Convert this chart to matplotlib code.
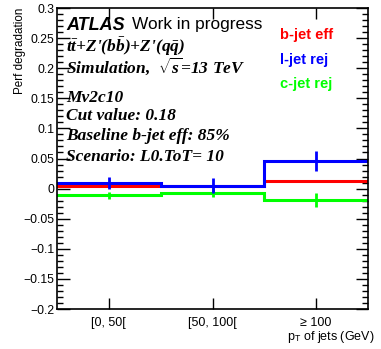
import matplotlib
matplotlib.use("Agg")
import matplotlib.pyplot as plt
import numpy as np
from matplotlib.ticker import MultipleLocator, FixedLocator

plt.rcParams['mathtext.fontset'] = 'custom'
plt.rcParams['mathtext.rm'] = 'Liberation Serif:bold:italic'
plt.rcParams['mathtext.it'] = 'Liberation Serif:bold:italic'
plt.rcParams['mathtext.bf'] = 'Liberation Serif:bold:italic'
plt.rcParams['mathtext.sf'] = 'Liberation Sans'

categories = ["[0, 50[", "[50, 100[", "≥ 100"]
b_eff = [0.005, 0.004, 0.0126]
b_err = [0.001, 0.001, 0.001]
l_rej = [0.009, 0.005, 0.046]
l_err = [0.0095, 0.012, 0.016]
c_rej = [-0.011, -0.007, -0.019]
c_err = [0.0055, 0.0075, 0.0116]

W, H = 381, 349
fig = plt.figure(figsize=(W / 100, H / 100), dpi=100)
ax = fig.add_axes([57 / W, 1 - 309 / H, (368 - 57) / W, (309 - 8) / H])

n = len(categories)
edges = np.arange(n + 1)
centers = edges[:-1] + 0.5

series = [(b_eff, b_err, '#ff0000'), (c_rej, c_err, '#00ff00'), (l_rej, l_err, '#0000ff')]
for vals, errs, col in series:
    v = list(vals) + [vals[-1]]
    ax.step(edges, v, where='post', color=col, lw=2.2, solid_joinstyle='miter')
    ax.errorbar(centers, vals, yerr=errs, fmt='none', ecolor=col, elinewidth=2.0, capsize=0)

ax.set_xlim(0, n)
ax.set_ylim(-0.2, 0.3)
ax.xaxis.set_major_locator(FixedLocator(centers))
ax.set_xticklabels(categories, fontsize=9, family='Liberation Sans')
ax.yaxis.set_minor_locator(MultipleLocator(0.01))
yt = np.arange(-0.2, 0.3001, 0.05)
ylabels = []
for t in yt:
    if abs(t) < 1e-9:
        ylabels.append("0")
    else:
        s = ("%.2f" % abs(t)).rstrip('0').rstrip('.')
        ylabels.append(("\u2212" if t < 0 else "") + s)
ax.set_yticks(yt)
ax.set_yticklabels(ylabels, fontsize=8.8, family='Liberation Sans')
ax.tick_params(axis='both', which='both', direction='in', top=True, right=True)
ax.tick_params(axis='y', which='major', length=9, width=1, pad=2)
ax.tick_params(axis='y', which='minor', length=4.5, width=1)
ax.tick_params(axis='x', which='major', length=8, width=1, pad=6)
for sp in ax.spines.values():
    sp.set_linewidth(1.2)

fig.text(20 / W, 1 - 8 / H, "Perf degradation", fontsize=8.4, family='Liberation Sans',
         rotation=90, ha='center', va='top')
fig.text(375 / W, 1 - 340 / H, "p$_{\\mathsf{T}}$ of jets (GeV)", fontsize=9,
         family='Liberation Sans', ha='right', va='baseline')

# annotation text
fig.text(66 / W, 1 - 29.5 / H, "ATLAS", fontsize=13, fontweight='bold', fontstyle='italic', family='Liberation Sans')
fig.text(132 / W, 1 - 29.5 / H, "Work in progress", fontsize=12.4, family='Liberation Sans')
serif = dict(fontsize=12.5, family='Liberation Serif', fontweight='bold', fontstyle='italic')
fig.text(66 / W, 1 - 51.5 / H, r"$t\bar{t}$+Z'($b\bar{b}$)+Z'($q\bar{q}$)", **serif)
fig.text(66 / W, 1 - 72.5 / H, r"Simulation,  $\sqrt{s}$=13 TeV", **serif)
for txt, yy in [("Mv2c10", 101.5), ("Cut value: 0.18", 120.5), ("Baseline b-jet eff: 85%", 140.5),
                ("Scenario: L0.ToT= 10", 161)]:
    fig.text(66 / W, 1 - yy / H, txt, **serif)

for txt, col, yy in [("b-jet eff", '#ff0000', 39), ("l-jet rej", '#0000ff', 64), ("c-jet rej", '#00ff00', 88)]:
    fig.text(280 / W, 1 - yy / H, txt, fontsize=10.5, family='Liberation Sans', fontweight='bold', color=col)

fig.savefig("out.png", dpi=100)
